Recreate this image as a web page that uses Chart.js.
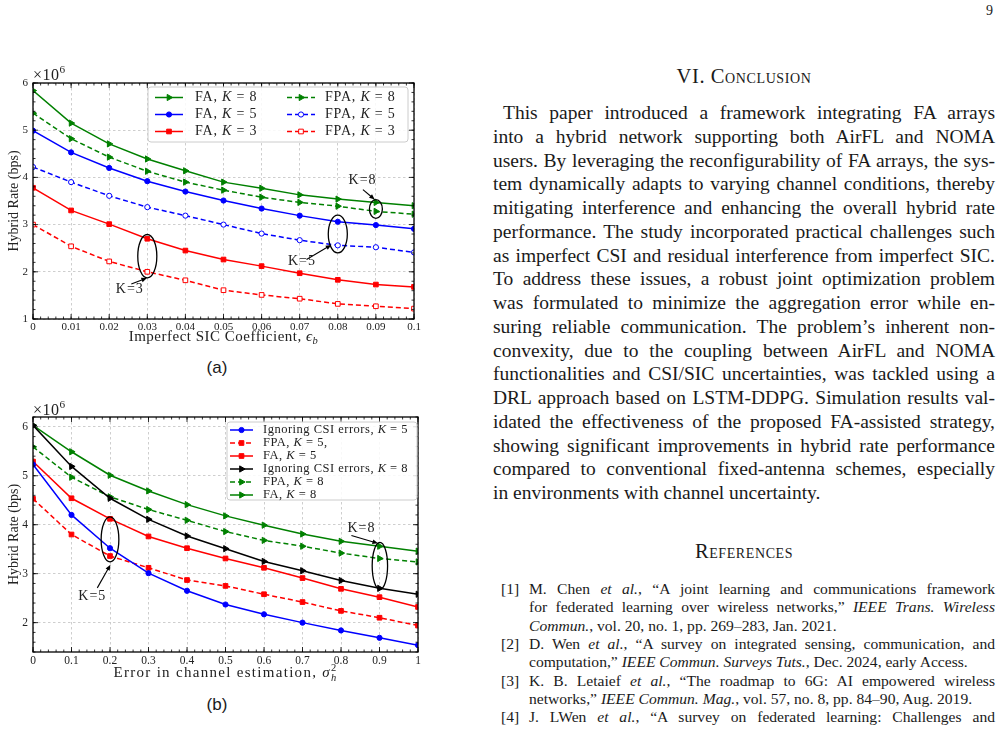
<!DOCTYPE html>
<html>
<head>
<meta charset="utf-8">
<title>Hybrid rate vs SIC / CSI error</title>
<script src="https://cdn.jsdelivr.net/npm/chart.js@4.4.1/dist/chart.umd.min.js"></script>
<style>
  body { margin:0; width:1002px; height:729px; overflow:hidden; position:relative; background:#fff; color:#1a1a1a; font-family:"Liberation Serif","Times New Roman",serif; }
  canvas { position:absolute; left:0; }
  #ca { top:60px; }
  #cb { top:400px; }
  .cap { position:absolute; left:0; width:434px; text-align:center; font:17px "Liberation Sans",Arial,sans-serif; line-height:20px; }
  .pg { position:absolute; left:986px; top:3px; font-size:14px; }
  .col { position:absolute; left:493px; width:502px; }
  .h { text-align:center; font-size:20.5px; font-variant:small-caps; letter-spacing:0.6px; line-height:24px; }
  .txt { font-size:19.5px; line-height:23.75px; }
  .txt div, .ref div { text-align:justify; text-align-last:justify; }
  .txt div.end, .ref div.end { text-align-last:left; }
  .refs { font-size:15.6px; line-height:18.33px; }
  .ref { position:relative; padding-left:36px; }
  .ref b { position:absolute; left:8px; top:0; font-weight:normal; }
</style>
</head>
<body>
<div class="pg">9</div>

<canvas id="ca" width="430" height="290"></canvas>
<div class="cap" style="top:358px">(a)</div>
<canvas id="cb" width="430" height="290"></canvas>
<div class="cap" style="top:695px">(b)</div>

<div class="col h" style="top:64px">VI. Conclusion</div>
<div class="col txt" style="top:101px">
  <div style="text-indent:10px">This paper introduced a framework integrating FA arrays</div>
  <div>into a hybrid network supporting both AirFL and NOMA</div>
  <div>users. By leveraging the reconfigurability of FA arrays, the sys-</div>
  <div>tem dynamically adapts to varying channel conditions, thereby</div>
  <div>mitigating interference and enhancing the overall hybrid rate</div>
  <div>performance. The study incorporated practical challenges such</div>
  <div>as imperfect CSI and residual interference from imperfect SIC.</div>
  <div>To address these issues, a robust joint optimization problem</div>
  <div>was formulated to minimize the aggregation error while en-</div>
  <div>suring reliable communication. The problem’s inherent non-</div>
  <div>convexity, due to the coupling between AirFL and NOMA</div>
  <div>functionalities and CSI/SIC uncertainties, was tackled using a</div>
  <div>DRL approach based on LSTM-DDPG. Simulation results val-</div>
  <div>idated the effectiveness of the proposed FA-assisted strategy,</div>
  <div>showing significant improvements in hybrid rate performance</div>
  <div>compared to conventional fixed-antenna schemes, especially</div>
  <div class="end">in environments with channel uncertainty.</div>
</div>

<div class="col h" style="top:539px">References</div>
<div class="col refs" style="top:580px">
  <div class="ref"><b>[1]</b>
    <div>M. Chen <i>et al.</i>, “A joint learning and communications framework</div>
    <div>for federated learning over wireless networks,” <i>IEEE Trans. Wireless</i></div>
    <div class="end"><i>Commun.</i>, vol. 20, no. 1, pp. 269–283, Jan. 2021.</div>
  </div>
  <div class="ref"><b>[2]</b>
    <div>D. Wen <i>et al.</i>, “A survey on integrated sensing, communication, and</div>
    <div class="end">computation,” <i>IEEE Commun. Surveys Tuts.</i>, Dec. 2024, early Access.</div>
  </div>
  <div class="ref"><b>[3]</b>
    <div>K. B. Letaief <i>et al.</i>, “The roadmap to 6G: AI empowered wireless</div>
    <div class="end">networks,” <i>IEEE Commun. Mag.</i>, vol. 57, no. 8, pp. 84–90, Aug. 2019.</div>
  </div>
  <div class="ref"><b>[4]</b>
    <div>J. LWen <i>et al.</i>, “A survey on federated learning: Challenges and</div>
    <div class="end">applications,” <i>Int. J. Mach. Learn. Cybern.</i>, vol. 14, no. 2, pp. 513–535,</div>
  </div>
</div>

<script>
// ---- data, chart (a): hybrid rate vs imperfect SIC coefficient (x 1e6 bps)
const xA = [0, 0.01, 0.02, 0.03, 0.04, 0.05, 0.06, 0.07, 0.08, 0.09, 0.1];
const faK8A  = [5.84, 5.15, 4.71, 4.39, 4.14, 3.90, 3.77, 3.63, 3.54, 3.47, 3.40];
const faK5A  = [4.99, 4.53, 4.20, 3.92, 3.70, 3.51, 3.34, 3.19, 3.06, 2.99, 2.91];
const faK3A  = [3.78, 3.30, 3.01, 2.70, 2.45, 2.26, 2.12, 1.97, 1.83, 1.73, 1.68];
const fpaK8A = [5.36, 4.82, 4.43, 4.13, 3.90, 3.73, 3.58, 3.47, 3.39, 3.28, 3.22];
const fpaK5A = [4.22, 3.90, 3.61, 3.37, 3.19, 3.00, 2.81, 2.67, 2.56, 2.52, 2.41];
const fpaK3A = [3.00, 2.54, 2.22, 2.00, 1.82, 1.61, 1.51, 1.43, 1.32, 1.27, 1.22];
const legendA = ['FA, *K* = 8', 'FA, *K* = 5', 'FA, *K* = 3', 'FPA, *K* = 8', 'FPA, *K* = 5', 'FPA, *K* = 3'];
const xTicksA = [0, 0.01, 0.02, 0.03, 0.04, 0.05, 0.06, 0.07, 0.08, 0.09, 0.1];
const xLabelsA = ['0', '0.01', '0.02', '0.03', '0.04', '0.05', '0.06', '0.07', '0.08', '0.09', '0.1'];
const yTicksA = [1, 2, 3, 4, 5, 6];
// ellipses [cx, cy, rx, ry], arrows [x0, y0, x1, y1], notes [text, x, y] in data units
const ringsA = [[0.03, 2.33, 0.0025, 0.46], [0.08, 2.80, 0.0025, 0.40], [0.09, 3.33, 0.0017, 0.20]];
const arrowsA = [[0.0258, 1.74, 0.0299, 1.87], [0.0718, 2.26, 0.0783, 2.57], [0.0866, 3.74, 0.0897, 3.53]];
const notesA = [['K=3', 0.0254, 1.62], ['K=5', 0.0706, 2.22], ['K=8', 0.0865, 3.93]];

// ---- data, chart (b): hybrid rate vs channel estimation error
const xB = [0, 0.1, 0.2, 0.3, 0.4, 0.5, 0.6, 0.7, 0.8, 0.9, 1];
const ignK5B = [5.23, 4.20, 3.52, 3.01, 2.65, 2.37, 2.17, 2.00, 1.84, 1.69, 1.54];
const fpaK5B = [4.53, 3.80, 3.36, 3.12, 2.87, 2.75, 2.58, 2.42, 2.24, 2.10, 1.94];
const faK5B  = [5.29, 4.54, 4.12, 3.76, 3.52, 3.31, 3.12, 2.91, 2.69, 2.52, 2.32];
const ignK8B = [6.03, 5.19, 4.54, 4.11, 3.77, 3.51, 3.25, 3.06, 2.86, 2.70, 2.58];
const fpaK8B = [5.59, 4.97, 4.57, 4.31, 4.09, 3.86, 3.68, 3.56, 3.42, 3.31, 3.24];
const faK8B  = [6.03, 5.49, 5.01, 4.69, 4.41, 4.18, 3.99, 3.81, 3.66, 3.56, 3.46];
const legendB = ['Ignoring CSI errors, *K* = 5', 'FPA, *K* = 5,', 'FA, *K* = 5',
                 'Ignoring CSI errors, *K* = 8', 'FPA, *K* = 8', 'FA, *K* = 8'];
const xTicksB = [0, 0.1, 0.2, 0.3, 0.4, 0.5, 0.6, 0.7, 0.8, 0.9, 1];
const xLabelsB = ['0', '0.1', '0.2', '0.3', '0.4', '0.5', '0.6', '0.7', '0.8', '0.9', '1'];
const yTicksB = [2, 3, 4, 5, 6];
const ringsB = [[0.2, 3.70, 0.023, 0.46], [0.901, 3.16, 0.020, 0.48]];
const arrowsB = [[0.167, 2.71, 0.201, 3.18], [0.827, 3.78, 0.896, 3.62]];
const notesB = [['K=5', 0.154, 2.54], ['K=8', 0.853, 3.92]];

const GREEN = '#008000', BLUE = '#0000ff', RED = '#ff0000', BLACK = '#000000';
const SERIF = '"Liberation Serif", "Times New Roman", serif';
const INK = '#222';

function fnt(size, it) { return (it ? 'italic ' : '') + size + 'px ' + SERIF; }

// tiny markup: *italic*, _x subscript, ^x superscript
function toks(s) {
  const out = []; let it = false, buf = '';
  for (let i = 0; i < s.length; i++) {
    const c = s[i];
    if (c === '*') { if (buf) out.push({ t: buf, it }); buf = ''; it = !it; }
    else if (c === '_' || c === '^') {
      if (buf) out.push({ t: buf, it }); buf = '';
      out.push({ t: s[++i], it: c === '_', pos: c === '_' ? 'sub' : 'sup' });
    } else buf += c;
  }
  if (buf) out.push({ t: buf, it });
  return out;
}

function drawRich(ctx, s, x, y, size, align, ls) {
  ctx.letterSpacing = (ls || 0) + 'px';
  let w = 0, subX = null;
  const items = toks(s).map(tk => {
    const sz = tk.pos ? size * 0.7 : size;
    ctx.font = fnt(sz, tk.it);
    const tw = ctx.measureText(tk.t).width;
    let tx = w, dy = 0;
    if (tk.pos === 'sub') { subX = w; w += tw; dy = size * 0.3; }
    else if (tk.pos === 'sup') {
      if (subX !== null) { tx = subX; w = Math.max(w, subX + tw); } else w += tw;
      dy = -size * 0.38; subX = null;
    } else { w += tw; subX = null; }
    return { tk, sz, tx, dy };
  });
  const x0 = align === 'center' ? x - w / 2 : x;
  ctx.textBaseline = 'middle'; ctx.textAlign = 'left';
  items.forEach(o => {
    ctx.font = fnt(o.sz, o.tk.it);
    ctx.fillText(o.tk.t, x0 + o.tx, y + o.dy);
  });
  ctx.letterSpacing = '0px';
}

function ticksAlong(ctx, scale, a, step, len, horiz) {
  const n = Math.round((scale.max - scale.min) / step);
  for (let i = 0; i <= n; i++) {
    const p = scale.getPixelForValue(scale.min + i * step);
    ctx.beginPath();
    if (horiz) {
      ctx.moveTo(p, a.bottom); ctx.lineTo(p, a.bottom - len);
      ctx.moveTo(p, a.top); ctx.lineTo(p, a.top + len);
    } else {
      ctx.moveTo(a.left, p); ctx.lineTo(a.left + len, p);
      ctx.moveTo(a.right, p); ctx.lineTo(a.right - len, p);
    }
    ctx.stroke();
  }
}

const decor = {
  id: 'decor',
  afterDraw(chart, args, o) {
    const { ctx, chartArea: a, scales: { x, y } } = chart;
    ctx.save();
    ctx.fillStyle = INK; ctx.strokeStyle = '#000';

    // annotations
    ctx.lineWidth = 1.3;
    o.rings.forEach(r => {
      const cx = x.getPixelForValue(r[0]), cy = y.getPixelForValue(r[1]);
      const rx = Math.abs(x.getPixelForValue(r[0] + r[2]) - cx);
      const ry = Math.abs(y.getPixelForValue(r[1] + r[3]) - cy);
      ctx.beginPath(); ctx.ellipse(cx, cy, rx, ry, 0, 0, Math.PI * 2); ctx.stroke();
    });
    o.arrows.forEach(ar => {
      const x0 = x.getPixelForValue(ar[0]), y0 = y.getPixelForValue(ar[1]);
      const x1 = x.getPixelForValue(ar[2]), y1 = y.getPixelForValue(ar[3]);
      const ang = Math.atan2(y1 - y0, x1 - x0), h = 6;
      ctx.lineWidth = 1.1;
      ctx.beginPath(); ctx.moveTo(x0, y0);
      ctx.lineTo(x1 - Math.cos(ang) * h * 0.8, y1 - Math.sin(ang) * h * 0.8); ctx.stroke();
      ctx.fillStyle = '#000';
      ctx.beginPath(); ctx.moveTo(x1, y1);
      ctx.lineTo(x1 - h * Math.cos(ang - 0.4), y1 - h * Math.sin(ang - 0.4));
      ctx.lineTo(x1 - h * Math.cos(ang + 0.4), y1 - h * Math.sin(ang + 0.4));
      ctx.closePath(); ctx.fill();
    });
    ctx.fillStyle = INK;
    o.notes.forEach(n => {
      drawRich(ctx, n[0], x.getPixelForValue(n[1]), y.getPixelForValue(n[2]), 14, 'center', 1);
    });

    // frame and inward ticks on all four sides
    ctx.strokeStyle = '#000';
    ctx.lineWidth = 0.8;
    ticksAlong(ctx, x, a, o.xMinor, 2.5, true);
    ticksAlong(ctx, y, a, o.yMinor, 2.5, false);
    x.ticks.forEach(t => {
      const p = x.getPixelForValue(t.value);
      ctx.beginPath(); ctx.moveTo(p, a.bottom); ctx.lineTo(p, a.bottom - 5);
      ctx.moveTo(p, a.top); ctx.lineTo(p, a.top + 5); ctx.stroke();
    });
    y.ticks.forEach(t => {
      const p = y.getPixelForValue(t.value);
      ctx.beginPath(); ctx.moveTo(a.left, p); ctx.lineTo(a.left + 5, p);
      ctx.moveTo(a.right, p); ctx.lineTo(a.right - 5, p); ctx.stroke();
    });
    ctx.lineWidth = 1.3;
    ctx.strokeRect(a.left, a.top, a.right - a.left, a.bottom - a.top);

    // multiplier and x title
    ctx.fillStyle = INK;
    drawRich(ctx, '×10^6', a.left, a.top - o.multOff, 16, 'left', 0.5);
    drawRich(ctx, o.xTitle, (a.left + a.right) / 2, a.bottom + o.xTitleOff, 15, 'center', o.xTitleLs);

    // legend
    const L = o.legend, b = L.box;
    ctx.beginPath();
    ctx.roundRect(b[0], b[1], b[2] - b[0], b[3] - b[1], 3);
    ctx.fillStyle = 'rgba(255,255,255,0.85)'; ctx.fill();
    ctx.strokeStyle = '#cccccc'; ctx.lineWidth = 1; ctx.stroke();
    chart.data.datasets.forEach((d, i) => {
      const col = L.cols[Math.floor(i / L.rows.length)], ry = L.rows[i % L.rows.length];
      ctx.strokeStyle = d.borderColor; ctx.lineWidth = d.borderWidth;
      ctx.setLineDash(d.borderDash);
      ctx.beginPath(); ctx.moveTo(col.line[0], ry); ctx.lineTo(col.line[1], ry); ctx.stroke();
      ctx.setLineDash([]);
      ctx.fillStyle = d.pointBackgroundColor; ctx.strokeStyle = d.pointBorderColor;
      ctx.lineWidth = d.pointBorderWidth;
      Chart.helpers.drawPoint(ctx, { pointStyle: d.pointStyle, rotation: d.pointRotation,
        radius: d.pointRadius, borderWidth: d.pointBorderWidth }, (col.line[0] + col.line[1]) / 2, ry);
      ctx.fillStyle = INK;
      drawRich(ctx, d.label, col.text, ry, L.size, 'left', L.ls);
    });
    ctx.restore();
  }
};

const MARK = {
  tri: { pointStyle: 'triangle', pointRotation: 90, pointRadius: 3.6 },
  dot: { pointStyle: 'circle', pointRotation: 0, pointRadius: 2.6 },
  sq:  { pointStyle: 'rect', pointRotation: 0, pointRadius: 3.3 }
};

function series(label, xs, ys, color, dashed, mk, hollow) {
  return Object.assign({
    label,
    data: ys.map((v, i) => ({ x: xs[i], y: v })),
    borderColor: color, backgroundColor: color,
    borderWidth: 1.5, borderDash: dashed ? [5, 3] : [],
    pointBackgroundColor: hollow ? '#ffffff' : color, pointBorderColor: color,
    pointBorderWidth: 1, tension: 0, fill: false
  }, MARK[mk]);
}

function makeChart(id, sets, c) {
  const tickFont = { family: SERIF, size: c.tickSize };
  return new Chart(document.getElementById(id), {
    type: 'line',
    data: { datasets: sets },
    plugins: [decor],
    options: {
      responsive: false, animation: false,
      layout: { padding: c.pad },
      plugins: {
        legend: { display: false }, tooltip: { enabled: false },
        decor: c.decor
      },
      scales: {
        x: {
          type: 'linear', min: c.xTicks[0], max: c.xTicks[c.xTicks.length - 1],
          afterBuildTicks: s => { s.ticks = c.xTicks.map(v => ({ value: v })); },
          afterFit: s => { s.height = c.xH; },
          ticks: { callback: v => c.xLabels[c.xTicks.indexOf(v)], font: tickFont, color: INK,
                   padding: 2, maxRotation: 0, autoSkip: false },
          grid: { color: '#c2c2c2', lineWidth: 0.8, drawTicks: false },
          border: { display: false, dash: [2.5, 2.5] }
        },
        y: {
          type: 'linear', min: c.yMin, max: c.yMax,
          afterBuildTicks: s => { s.ticks = c.yTicks.map(v => ({ value: v })); },
          afterFit: s => { s.width = 33; },
          ticks: { callback: v => String(v), font: tickFont, color: INK, padding: 5 },
          grid: { color: '#c2c2c2', lineWidth: 0.8, drawTicks: false },
          border: { display: false, dash: [2.5, 2.5] },
          title: { display: true, text: 'Hybrid Rate (bps)', color: INK,
                   font: { family: SERIF, size: 14 }, padding: { top: 6, bottom: 0 } }
        }
      }
    }
  });
}

makeChart('ca', [
  series(legendA[0], xA, faK8A, GREEN, false, 'tri', false),
  series(legendA[1], xA, faK5A, BLUE, false, 'dot', false),
  series(legendA[2], xA, faK3A, RED, false, 'sq', false),
  series(legendA[3], xA, fpaK8A, GREEN, true, 'tri', false),
  series(legendA[4], xA, fpaK5A, BLUE, true, 'dot', true),
  series(legendA[5], xA, fpaK3A, RED, true, 'sq', true)
], {
  pad: { left: 0, top: 23, right: 16, bottom: 0 }, xH: 31, tickSize: 11,
  xTicks: xTicksA, xLabels: xLabelsA, yTicks: yTicksA, yMin: 1, yMax: 6,
  decor: {
    xMinor: 0.002, yMinor: 0.2, multOff: 7, xTitleOff: 18, xTitleLs: 0.5,
    xTitle: 'Imperfect SIC Coefficient, *ϵ*_b',
    rings: ringsA, arrows: arrowsA, notes: notesA,
    legend: { box: [148, 27, 408, 82], rows: [37.5, 54.5, 71.5], size: 14, ls: 0.8,
              cols: [{ line: [155, 183], text: 195 }, { line: [287, 315], text: 325 }] }
  }
});

makeChart('cb', [
  series(legendB[0], xB, ignK5B, BLUE, false, 'dot', false),
  series(legendB[1], xB, fpaK5B, RED, true, 'sq', false),
  series(legendB[2], xB, faK5B, RED, false, 'sq', false),
  series(legendB[3], xB, ignK8B, BLACK, false, 'tri', false),
  series(legendB[4], xB, fpaK8B, GREEN, true, 'tri', false),
  series(legendB[5], xB, faK8B, GREEN, false, 'tri', false)
], {
  pad: { left: 0, top: 17, right: 12, bottom: 0 }, xH: 38, tickSize: 11.5,
  xTicks: xTicksB, xLabels: xLabelsB, yTicks: yTicksB, yMin: 1.4, yMax: 6.2,
  decor: {
    xMinor: 0.02, yMinor: 0.2, multOff: 6, xTitleOff: 21.5, xTitleLs: 1.3,
    xTitle: 'Error in channel estimation, *σ*_h^2',
    rings: ringsB, arrows: arrowsB, notes: notesB,
    legend: { box: [227, 22, 417, 100], rows: [30, 43, 56, 69, 82, 95], size: 12.5, ls: 0.5,
              cols: [{ line: [230, 253], text: 263 }] }
  }
});
</script>
</body>
</html>
